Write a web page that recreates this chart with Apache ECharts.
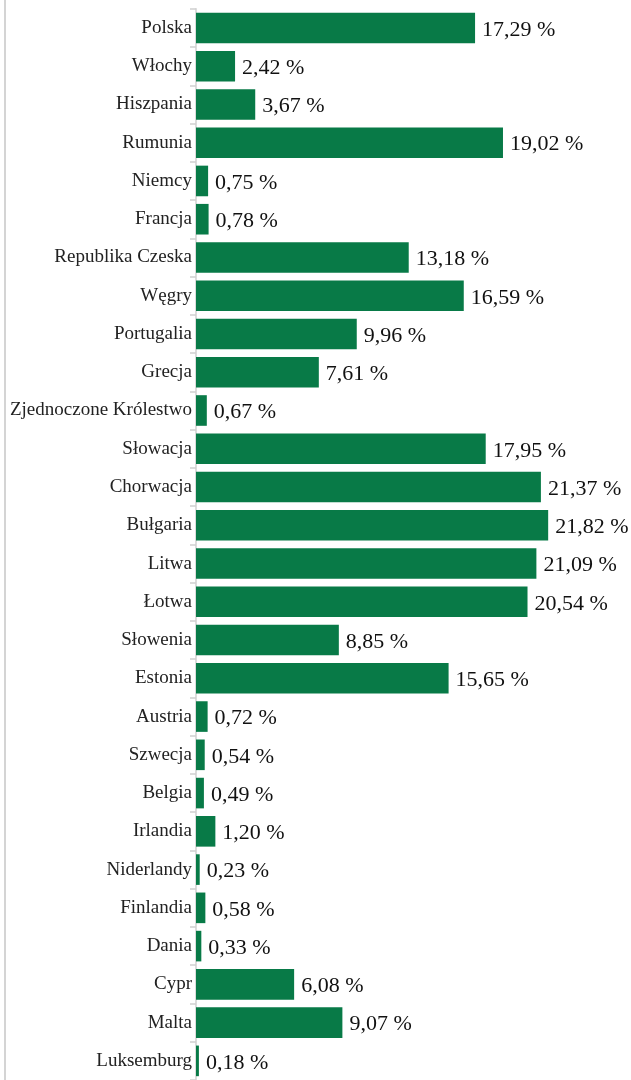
<!DOCTYPE html>
<html>
<head>
<meta charset="utf-8">
<script src="https://cdn.jsdelivr.net/npm/echarts@6/dist/echarts.min.js"></script>
<style>
  html, body { margin: 0; padding: 0; background: #fff; }
  #chart { width: 631px; height: 1080px; }
</style>
</head>
<body>
<div id="chart"></div>
<script>
// Countries, top to bottom
const countries = [
  'Polska', 'Włochy', 'Hiszpania', 'Rumunia', 'Niemcy', 'Francja',
  'Republika Czeska', 'Węgry', 'Portugalia', 'Grecja', 'Zjednoczone Królestwo',
  'Słowacja', 'Chorwacja', 'Bułgaria', 'Litwa', 'Łotwa', 'Słowenia', 'Estonia',
  'Austria', 'Szwecja', 'Belgia', 'Irlandia', 'Niderlandy', 'Finlandia',
  'Dania', 'Cypr', 'Malta', 'Luksemburg'
];

// Share in percent
const shares = [
  17.29, 2.42, 3.67, 19.02, 0.75, 0.78,
  13.18, 16.59, 9.96, 7.61, 0.67,
  17.95, 21.37, 21.82, 21.09, 20.54, 8.85, 15.65,
  0.72, 0.54, 0.49, 1.20, 0.23, 0.58,
  0.33, 6.08, 9.07, 0.18
];

const serif = '"Liberation Serif", "DejaVu Serif", serif';

const chart = echarts.init(document.getElementById('chart'), null, { renderer: 'canvas' });

chart.setOption({
  animation: false,
  backgroundColor: '#ffffff',
  graphic: [{
    type: 'rect',
    shape: { x: 4, y: 0, width: 2, height: 1080 },
    style: { fill: '#d4d4d4' },
    silent: true
  }],
  grid: {
    left: 196,
    top: 8.8,
    width: 403.5,
    height: 1077.4,
    containLabel: false
  },
  xAxis: {
    type: 'value',
    min: 0,
    max: 25,
    show: false
  },
  yAxis: {
    type: 'category',
    data: countries,
    inverse: true,
    axisLine: { show: true, lineStyle: { color: '#d0d0d0', width: 1.5 } },
    axisTick: { show: true, length: 6, lineStyle: { color: '#d0d0d0', width: 1.5 } },
    axisLabel: {
      margin: 4,
      color: '#222222',
      fontFamily: serif,
      fontSize: 19,
      padding: [2, 0, 0, 0]
    },
    splitLine: { show: false }
  },
  series: [{
    type: 'bar',
    data: shares,
    barCategoryGap: '20%',
    itemStyle: { color: '#087a47' },
    label: {
      show: true,
      position: 'right',
      distance: 7,
      offset: [0, 2],
      color: '#111111',
      fontFamily: serif,
      fontSize: 22,
      formatter: p => p.value.toFixed(2).replace('.', ',') + ' %'
    }
  }]
});
</script>
</body>
</html>
